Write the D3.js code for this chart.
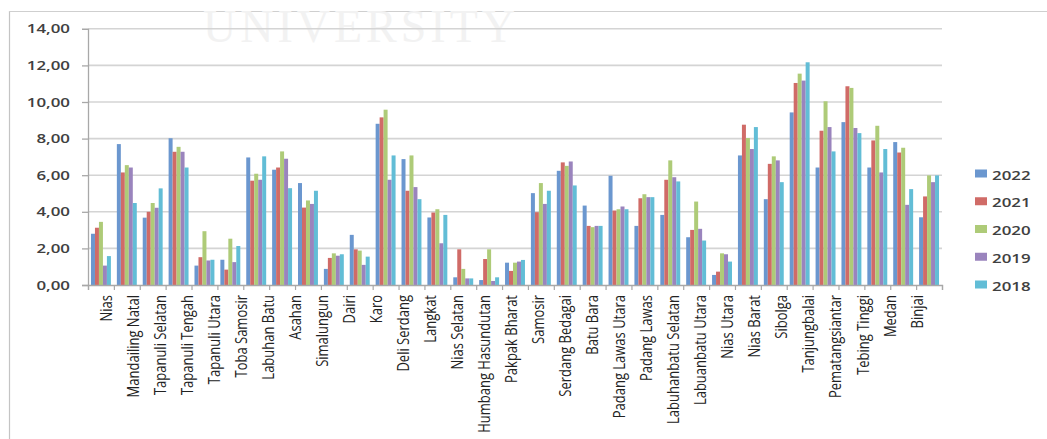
<!DOCTYPE html>
<html>
<head>
<meta charset="utf-8">
<script src="https://cdn.jsdelivr.net/npm/d3@7"></script>
<style>
  html, body { margin: 0; padding: 0; background: #fff; }
  svg { display: block; }
</style>
</head>
<body>
<svg id="chart" width="1047" height="439"></svg>
<script>
// Series (legend order)
const years = ["2022", "2021", "2020", "2019", "2018"];
const seriesColors = ["#6b97cf", "#d06b67", "#aecb78", "#9a84bd", "#62bdd6"];

// Region names written under the category axis
const regionLabels = [
  "Nias", "Mandailing Natal", "Tapanuli Selatan", "Tapanuli Tengah", "Tapanuli Utara",
  "Toba Samosir", "Labuhan Batu", "Asahan", "Simalungun", "Dairi", "Karo",
  "Deli Serdang", "Langkat", "Nias  Selatan", "Humbang Hasundutan", "Pakpak Bharat",
  "Samosir", "Serdang Bedagai", "Batu Bara", "Padang Lawas Utara", "Padang Lawas",
  "Labuhanbatu Selatan", "Labuanbatu Utara", "Nias Utara", "Nias Barat", "Sibolga",
  "Tanjungbalai", "Pematangsiantar", "Tebing Tinggi", "Medan", "Binjai"
];

// Values per category slot, one array per year
const v2022 = [2.80, 7.70, 3.68, 8.02, 1.06, 1.38, 6.97, 6.30, 5.57, 0.88, 2.74, 8.81, 6.88, 3.69, 0.42, 0.27, 1.22,
               5.02, 6.24, 4.34, 5.97, 3.23, 3.83, 2.61, 0.55, 7.08, 4.69, 9.43, 6.42, 8.90, 6.42, 7.81, 3.70];
const v2021 = [3.13, 6.15, 4.00, 7.28, 1.52, 0.84, 5.70, 6.42, 4.23, 1.48, 1.95, 9.16, 5.15, 3.96, 1.95, 1.42, 0.77,
               3.98, 6.70, 3.23, 4.07, 4.74, 5.75, 3.01, 0.73, 8.76, 6.62, 11.04, 8.43, 10.86, 7.90, 7.24, 4.84];
const v2020 = [3.45, 6.55, 4.48, 7.55, 2.94, 2.53, 6.08, 7.30, 4.62, 1.73, 1.88, 9.58, 7.08, 4.14, 0.88, 1.95, 1.22,
               5.57, 6.51, 3.16, 4.14, 4.96, 6.81, 4.56, 1.73, 8.03, 7.03, 11.55, 10.04, 10.77, 8.70, 7.50, 5.99];
const v2019 = [1.06, 6.42, 4.22, 7.28, 1.34, 1.25, 5.75, 6.90, 4.43, 1.60, 1.10, 5.75, 5.35, 2.28, 0.36, 0.22, 1.28,
               4.43, 6.75, 3.23, 4.29, 4.80, 5.89, 3.07, 1.68, 7.43, 6.81, 11.17, 8.63, 8.58, 6.15, 4.38, 5.62];
const v2018 = [1.58, 4.48, 5.28, 6.42, 1.38, 2.13, 7.03, 5.29, 5.15, 1.68, 1.55, 7.08, 4.69, 3.83, 0.36, 0.42, 1.37,
               5.15, 5.44, 3.23, 4.14, 4.80, 5.66, 2.43, 1.28, 8.63, 5.62, 12.17, 7.30, 8.30, 7.43, 5.24, 5.99];

const yTicks = [0, 2, 4, 6, 8, 10, 12, 14];

const seriesValues = [v2022, v2021, v2020, v2019, v2018];
const slots = d3.range(v2022.length);

const svg = d3.select("#chart");
const fontFamily = "'Open Sans', 'DejaVu Sans', sans-serif";
const stretch = "scale(1.3,1)";

// Outer frame (top and left edges)
svg.append("line").attr("x1", 9.5).attr("x2", 9.5).attr("y1", 11).attr("y2", 439)
  .attr("stroke", "#c4c4c4").attr("stroke-width", 1.2);
svg.append("line").attr("x1", 9).attr("x2", 1047).attr("y1", 11.5).attr("y2", 11.5)
  .attr("stroke", "#cfcfcf").attr("stroke-width", 1.2);

// Faint watermark lettering at the top
svg.append("text")
  .attr("x", 203).attr("y", 42)
  .attr("font-family", "'Liberation Serif', serif")
  .attr("font-size", 46)
  .attr("letter-spacing", 4)
  .attr("fill", "#f2f2f2")
  .text("UNIVERSITY");

// Scales
const x = d3.scaleBand().domain(slots).range([88, 942]).paddingInner(0.23).paddingOuter(0.115);
const xs = d3.scaleBand().domain(years).range([0, x.bandwidth()]);
const y = d3.scaleLinear().domain([0, 14]).range([285, 28.8]);
const slotEdges = d3.scaleLinear().domain([0, slots.length]).range([88, 942]);
const labelPos = d3.scalePoint().domain(regionLabels).range([105, 916]);

const locale = d3.formatLocale({ decimal: ",", thousands: ".", grouping: [3], currency: ["", ""] });
const fmt = locale.format(".2f");

// Horizontal gridlines
svg.append("g")
  .selectAll("line")
  .data(yTicks.filter(t => t > 0))
  .join("line")
  .attr("x1", 88).attr("x2", 942)
  .attr("y1", d => y(d)).attr("y2", d => y(d))
  .attr("stroke", "#d4d4d4").attr("stroke-width", 1.6);

// Bars
const groups = svg.append("g")
  .selectAll("g")
  .data(slots)
  .join("g")
  .attr("transform", d => `translate(${x(d)},0)`);

groups.selectAll("rect")
  .data(i => years.map((yr, k) => ({ yr, k, v: seriesValues[k][i] })))
  .join("rect")
  .attr("x", d => xs(d.yr))
  .attr("width", xs.bandwidth())
  .attr("y", d => y(d.v))
  .attr("height", d => y(0) - y(d.v))
  .attr("fill", d => seriesColors[d.k]);

// Value axis
const yAxis = svg.append("g")
  .attr("transform", "translate(88,0)")
  .call(d3.axisLeft(y).tickValues(yTicks).tickSize(6).tickFormat(fmt));
yAxis.select(".domain").attr("stroke", "#a8a8a8").attr("stroke-width", 1.3);
yAxis.selectAll(".tick line").attr("stroke", "#a8a8a8").attr("stroke-width", 1.3);
yAxis.selectAll(".tick text")
  .attr("x", 0)
  .attr("transform", `translate(-18,0) ${stretch}`)
  .attr("font-family", fontFamily)
  .attr("font-weight", 600)
  .attr("font-size", 13)
  .attr("fill", "#404040");

// Category axis line with ticks between slots
const xAxis = svg.append("g")
  .attr("transform", "translate(0,285)")
  .call(d3.axisBottom(slotEdges).tickValues(d3.range(slots.length + 1)).tickSize(5).tickFormat(""));
xAxis.select(".domain").attr("stroke", "#a8a8a8").attr("stroke-width", 1.3);
xAxis.selectAll(".tick line").attr("stroke", "#a8a8a8").attr("stroke-width", 1.2);

// Rotated region labels
const labelAxis = svg.append("g")
  .attr("transform", "translate(0,285)")
  .call(d3.axisBottom(labelPos).tickSize(0));
labelAxis.select(".domain").remove();
labelAxis.selectAll(".tick text")
  .attr("x", 0).attr("y", 0)
  .attr("dy", "0.36em")
  .attr("transform", `translate(0,10) ${stretch} rotate(-90)`)
  .attr("text-anchor", "end")
  .attr("font-family", fontFamily)
  .attr("font-size", 13)
  .attr("fill", "#222");

// Legend
const legendY = d3.scalePoint().domain(years).range([173.5, 284.5]);
const legend = svg.append("g")
  .selectAll("g")
  .data(years)
  .join("g")
  .attr("transform", d => `translate(975,${legendY(d)})`);
legend.append("rect")
  .attr("x", 0).attr("y", -4).attr("width", 12).attr("height", 8)
  .attr("fill", (d, i) => seriesColors[i]);
legend.append("text")
  .attr("transform", `translate(17,6) ${stretch}`)
  .attr("font-family", fontFamily)
  .attr("font-weight", 600)
  .attr("font-size", 13)
  .attr("fill", "#404040")
  .text(d => d);
</script>
</body>
</html>
